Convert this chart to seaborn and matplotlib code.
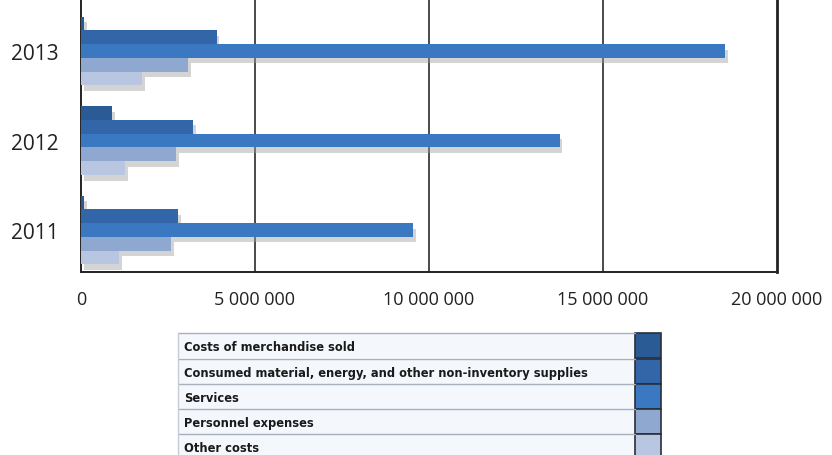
import matplotlib
matplotlib.use("Agg")
import matplotlib.pyplot as plt
import matplotlib.patheffects as pe
from matplotlib.patches import Rectangle
from matplotlib.ticker import FuncFormatter
from matplotlib import font_manager
import numpy as np
import pandas as pd
import seaborn as sns

# data
years = ["2013", "2012", "2011"]
categories = [
    "Costs of merchandise sold",
    "Consumed material, energy, and other non-inventory supplies",
    "Services",
    "Personnel expenses",
    "Other costs",
]
merchandise = [100_000, 900_000, 100_000]
consumed = [3_900_000, 3_220_000, 2_800_000]
services = [18_500_000, 13_750_000, 9_550_000]
personnel = [3_080_000, 2_730_000, 2_600_000]
other = [1_750_000, 1_270_000, 1_100_000]
colors = ["#2b5b94", "#3366a8", "#3a78c2", "#8fa8d0", "#b8c6e2"]
xticks = [0, 5_000_000, 10_000_000, 15_000_000, 20_000_000]

series = [merchandise, consumed, services, personnel, other]
rows = []
for cat, vals in zip(categories, series):
    for y, v in zip(years, vals):
        rows.append({"Year": y, "Cost": cat, "Value": v})
df = pd.DataFrame(rows)

sns.set_theme(style="white")
plt.rcParams["font.family"] = ["Open Sans", "DejaVu Sans"]

# a narrow bold face for the legend table
narrow = None
for f in font_manager.fontManager.ttflist:
    if "Condensed" in f.fname and "DejaVuSans" in f.fname and "Bold" in f.fname \
            and "Oblique" not in f.fname:
        narrow = font_manager.FontProperties(fname=f.fname, size=9.2)
        break
if narrow is None:
    narrow = font_manager.FontProperties(family="DejaVu Sans", weight="bold",
                                         stretch="condensed", size=9.2)

W, H = 832, 456
fig = plt.figure(figsize=(W / 100, H / 100), dpi=100)
ax = fig.add_axes([81 / W, 1 - 273 / H, (777 - 81) / W, 273 / H])

sns.barplot(data=df, x="Value", y="Year", hue="Cost", order=years,
            hue_order=categories, palette=colors, orient="h",
            width=0.77, saturation=1, legend=False, ax=ax, zorder=3)

for p in ax.patches:
    p.set_edgecolor("none")
    p.set_path_effects([pe.SimplePatchShadow(offset=(2, -4), shadow_rgbFace="#a0a0a0",
                                             alpha=0.45), pe.Normal()])

ax.set_xlim(0, 20_000_000)
ax.set_ylim(2.469, -0.581)
ax.set_xticks(xticks)
ax.xaxis.set_major_formatter(FuncFormatter(lambda v, _: f"{int(v):,}".replace(",", " ")))
ax.tick_params(axis="x", length=0, pad=13, labelsize=13, labelcolor="#222222")
ax.tick_params(axis="y", length=0, pad=16, labelsize=15, labelcolor="#222222")
ax.set_xlabel("")
ax.set_ylabel("")
for x in xticks[1:-1]:
    ax.axvline(x, color="#4a4a4a", lw=1.4, zorder=1)
for side in ["left", "bottom", "right"]:
    ax.spines[side].set_color("#222222")
ax.spines["left"].set_linewidth(1.4)
ax.spines["bottom"].set_linewidth(1.4)
ax.spines["right"].set_linewidth(2.0)
ax.spines["top"].set_visible(False)

# legend table below the chart
lg = fig.add_axes([0, 0, 1, 1], zorder=5)
lg.set_xlim(0, W)
lg.set_ylim(H, 0)
lg.axis("off")
lg.patch.set_alpha(0)
row_tops = [334, 360, 385, 410, 435]
row_h = 25
for i, (cat, col) in enumerate(zip(categories, colors)):
    top = row_tops[i]
    lg.add_patch(Rectangle((178, top), 457, row_h, facecolor="#f4f7fc",
                           edgecolor="none"))
    lg.plot([178, 635], [top, top], color="#a8b0bc", lw=1)
    lg.add_patch(Rectangle((635, top), 26, row_h, facecolor=col,
                           edgecolor="#2a2f38", lw=1.2))
    lg.text(184, top + row_h / 2 + 1, cat, va="center", ha="left",
            fontproperties=narrow, color="#1a1a1a")
lg.plot([178, 178], [334, 460], color="#c8ccd4", lw=1)

fig.savefig("out.png", dpi=100)
